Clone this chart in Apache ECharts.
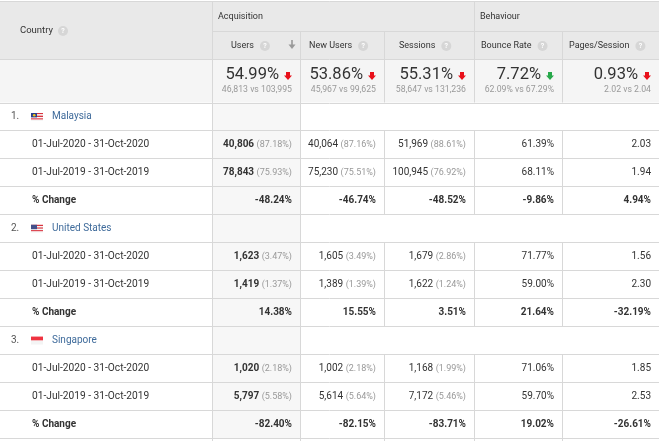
<!DOCTYPE html>
<html>
<head>
<meta charset="utf-8">
<script src="https://cdn.jsdelivr.net/npm/echarts@6/dist/echarts.min.js"></script>
<style>
  html, body { margin: 0; padding: 0; background: #fff; }
  #chart { width: 659px; height: 441px; }
</style>
</head>
<body>
<div id="chart"></div>
<script>
// Country report — period comparison table, drawn with a custom series

const countries = ['Malaysia', 'United States', 'Singapore'];
const flags = ['my', 'us', 'sg'];
const periods = ['01-Jul-2020 - 31-Oct-2020', '01-Jul-2019 - 31-Oct-2019'];
const groups = ['Acquisition', 'Behaviour'];
const metrics = ['Users', 'New Users', 'Sessions', 'Bounce Rate', 'Pages/Session'];

// summary row
const totalChange = ['54.99%', '53.86%', '55.31%', '7.72%', '0.93%'];
const totalCompare = ['46,813 vs 103,995', '45,967 vs 99,625', '58,647 vs 131,236', '62.09% vs 67.29%', '2.02 vs 2.04'];
const totalGood = [false, false, false, true, false];

// per country: [2020, 2019]
const users = [[40806, 78843], [1623, 1419], [1020, 5797]];
const usersShare = [['87.18%', '75.93%'], ['3.47%', '1.37%'], ['2.18%', '5.58%']];
const newUsers = [[40064, 75230], [1605, 1389], [1002, 5614]];
const newUsersShare = [['87.16%', '75.51%'], ['3.49%', '1.39%'], ['2.18%', '5.64%']];
const sessions = [[51969, 100945], [1679, 1622], [1168, 7172]];
const sessionsShare = [['88.61%', '76.92%'], ['2.86%', '1.24%'], ['1.99%', '5.46%']];
const bounceRate = [[61.39, 68.11], [71.77, 59.00], [71.06, 59.70]];
const pagesPerSession = [[2.03, 1.94], [1.56, 2.30], [1.85, 2.53]];
const pctChange = [
  ['-48.24%', '-46.74%', '-48.52%', '-9.86%', '4.94%'],
  ['14.38%', '15.55%', '3.51%', '21.64%', '-32.19%'],
  ['-82.40%', '-82.15%', '-83.71%', '19.02%', '-26.61%'],
];

// layout
const W = 659, H = 441;
const FONT = 'Roboto, Arial, sans-serif';
const colEdges = [0, 212, 300, 384, 474, 562, 659];
const groupStart = [1, 4];          // column index where each group starts
const headLabelX = [231, 309, 399, 481, 569];
const Y_TOP = 1, Y_MID = 31, Y_HEAD = 59, Y_SUM = 102.5, ROW_H = 27.95;
const LINE = '#d8d8d8';
const TEXT = '#333';
const GREY = '#999';
const LINK = '#3f6b9b';

const fmt = n => n.toLocaleString('en-US');

const rows = [];
countries.forEach((name, c) => {
  rows.push({ kind: 'country', c });
  periods.forEach((p, k) => rows.push({ kind: 'period', c, k }));
  rows.push({ kind: 'change', c });
});

const measureCtx = document.createElement('canvas').getContext('2d');
function textWidth(t, size, weight) {
  measureCtx.font = (weight || 'normal') + ' ' + size + 'px ' + FONT;
  return measureCtx.measureText(t).width;
}

function periodCells(c, k) {
  return [
    { main: fmt(users[c][k]), share: usersShare[c][k], bold: true },
    { main: fmt(newUsers[c][k]), share: newUsersShare[c][k] },
    { main: fmt(sessions[c][k]), share: sessionsShare[c][k] },
    { main: bounceRate[c][k].toFixed(2) + '%' },
    { main: pagesPerSession[c][k].toFixed(2) },
  ];
}

function renderItem(params, api) {
  const id = api.value(0);
  const P = (x, y) => api.coord([x, y]);
  const kids = [];

  const rect = (x0, y0, x1, y1, fill) => {
    const a = P(x0, y0), b = P(x1, y1);
    kids.push({ type: 'rect', shape: { x: a[0], y: a[1], width: b[0] - a[0], height: b[1] - a[1] }, style: { fill } });
  };
  const txt = (x, y, text, o) => {
    const p = P(x, y);
    kids.push({ type: 'text', x: p[0], y: p[1],
      style: Object.assign({ text, fill: TEXT, fontSize: 10, fontFamily: FONT, align: 'left', verticalAlign: 'middle' }, o) });
  };
  const hline = (y, x0, x1) => {
    const a = P(x0, y), b = P(x1, y);
    const yy = Math.round(a[1]) + 0.5;
    kids.push({ type: 'line', shape: { x1: a[0], y1: yy, x2: b[0], y2: yy }, style: { stroke: LINE, lineWidth: 1 } });
  };
  const vline = (x, y0, y1) => {
    const a = P(x, y0), b = P(x, y1);
    const xx = Math.round(a[0]) + 0.5;
    kids.push({ type: 'line', shape: { x1: xx, y1: a[1], x2: xx, y2: b[1] }, style: { stroke: LINE, lineWidth: 1 } });
  };
  const help = (x, y) => {
    const p = P(x, y);
    kids.push({ type: 'circle', shape: { cx: p[0], cy: p[1], r: 5 }, style: { fill: '#d6d6d6' } });
    kids.push({ type: 'text', x: p[0], y: p[1] + 0.5,
      style: { text: '?', fill: '#fff', fontSize: 7, fontWeight: 'bold', fontFamily: FONT, align: 'center', verticalAlign: 'middle' } });
  };
  const downArrow = (x, y, fill) => {
    const p = P(x, y), cx = p[0], cy = p[1];
    kids.push({ type: 'polygon', shape: { points: [
      [cx - 2, cy - 4], [cx + 2, cy - 4], [cx + 2, cy - 0.5], [cx + 4, cy - 0.5],
      [cx, cy + 4], [cx - 4, cy - 0.5], [cx - 2, cy - 0.5]] }, style: { fill } });
  };

  if (id === 0) {
    // header
    rect(0, Y_TOP, W, Y_HEAD, '#e9e9e9');
    txt(20, (Y_TOP + Y_HEAD) / 2 + 1, 'Country', { fontSize: 9.5 });
    help(20 + textWidth('Country', 9.5) + 10, (Y_TOP + Y_HEAD) / 2 + 1);
    groups.forEach((g, i) => txt(colEdges[groupStart[i]] + 6, (Y_TOP + Y_MID) / 2 + 1, g, { fontSize: 9 }));
    metrics.forEach((m, j) => {
      const y = (Y_MID + Y_HEAD) / 2 + 1;
      txt(headLabelX[j], y, m, { fontSize: 9 });
      help(headLabelX[j] + textWidth(m, 9) + 11, y);
    });
    // sort indicator on Users
    const s = P(292, 40), e = P(292, 49);
    kids.push({ type: 'line', shape: { x1: s[0], y1: s[1], x2: e[0], y2: e[1] - 3 }, style: { stroke: '#999', lineWidth: 1.6 } });
    kids.push({ type: 'polygon', shape: { points: [[e[0] - 3.5, e[1] - 4.5], [e[0] + 3.5, e[1] - 4.5], [e[0], e[1]]] }, style: { fill: '#999' } });
  } else if (id === 1) {
    // summary
    rect(0, Y_HEAD, W, Y_SUM, '#f5f5f5');
    metrics.forEach((m, j) => {
      const r = colEdges[j + 2];
      txt(r - 21, 75, totalChange[j], { fontSize: 16.5, align: 'right', fill: '#333' });
      downArrow(r - 12, 76, totalGood[j] ? '#27a84a' : '#e8101a');
      txt(r - 8, 89.5, totalCompare[j], { fontSize: 8.7, align: 'right', fill: GREY });
    });
  } else if (id < 2 + rows.length) {
    const row = rows[id - 2];
    const top = Y_SUM + (id - 2) * ROW_H, bot = top + ROW_H, mid = (top + bot) / 2 + 0.5;
    rect(colEdges[1], top, colEdges[2], bot, '#f7f7f7');
    if (row.kind === 'country') {
      txt(11, mid, (row.c + 1) + '.', { fill: '#555' });
      drawFlag(flags[row.c], P(31, mid - 4), P(43, mid + 4), kids);
      txt(52, mid, countries[row.c], { fill: LINK });
    } else if (row.kind === 'period') {
      txt(32, mid, periods[row.k], { fontSize: 10.2 });
      periodCells(row.c, row.k).forEach((cell, j) => {
        const r = colEdges[j + 2] - 8;
        if (cell.share) {
          txt(r, mid, '{' + (cell.bold ? 'b' : 'n') + '|' + cell.main + '} {g|(' + cell.share + ')}', {
            align: 'right',
            rich: {
              b: { fontSize: 10, fontWeight: 'bold', fill: TEXT, fontFamily: FONT },
              n: { fontSize: 10, fill: TEXT, fontFamily: FONT },
              g: { fontSize: 9, fill: GREY, fontFamily: FONT },
            },
          });
        } else {
          txt(r, mid, cell.main, { align: 'right' });
        }
      });
    } else {
      txt(32, mid, '% Change', { fontWeight: 'bold' });
      pctChange[row.c].forEach((v, j) => txt(colEdges[j + 2] - 8, mid, v, { align: 'right', fontWeight: 'bold' }));
    }
  } else {
    // grid lines on top of everything
    hline(Y_TOP, 0, W);
    hline(Y_MID, colEdges[1], W);
    hline(Y_HEAD, 0, W);
    hline(Y_SUM, 0, W);
    rows.forEach((row, i) => hline(Y_SUM + (i + 1) * ROW_H, 0, W));
    vline(colEdges[1], Y_TOP, H);
    vline(colEdges[2], Y_MID, H);
    vline(colEdges[4], Y_TOP, Y_SUM);
    [3, 5].forEach(ci => vline(colEdges[ci], Y_MID, Y_SUM));
    rows.forEach((row, i) => {
      if (row.kind === 'country') return;
      const top = Y_SUM + i * ROW_H;
      [3, 4, 5].forEach(ci => vline(colEdges[ci], top, top + ROW_H));
    });
    vline(colEdges[3], Y_SUM + rows.length * ROW_H, H);
    vline(colEdges[4], Y_SUM + rows.length * ROW_H, H);
    vline(colEdges[5], Y_SUM + rows.length * ROW_H, H);
  }
  return { type: 'group', children: kids };
}

function drawFlag(code, a, b, kids) {
  const x = a[0], y = a[1], w = b[0] - a[0], h = b[1] - a[1];
  const r = (rx, ry, rw, rh, fill) => kids.push({ type: 'rect', shape: { x: rx, y: ry, width: rw, height: rh }, style: { fill } });
  if (code === 'sg') {
    r(x, y, w, h / 2, '#ef3340');
    r(x, y + h / 2, w, h / 2, '#f4f4f4');
    return;
  }
  const n = 6;
  for (let i = 0; i < n; i++) r(x, y + i * h / n, w, h / n, i % 2 ? '#f6f6f6' : '#d9343f');
  r(x, y, w * 0.5, h * 0.55, code === 'us' ? '#44508a' : '#2b3f8e');
  if (code === 'my') kids.push({ type: 'circle', shape: { cx: x + w * 0.27, cy: y + h * 0.28, r: 1.3 }, style: { fill: '#f5c518' } });
}

const itemIds = [0, 1].concat(rows.map((r, i) => i + 2), [rows.length + 2]);

const chart = echarts.init(document.getElementById('chart'), null, { renderer: 'canvas' });
chart.setOption({
  animation: false,
  backgroundColor: '#fff',
  grid: { left: 0, right: 0, top: 0, bottom: 0 },
  xAxis: { type: 'value', min: 0, max: W, show: false },
  yAxis: { type: 'value', min: 0, max: H, inverse: true, show: false },
  series: [{
    type: 'custom',
    renderItem,
    clip: false,
    silent: true,
    data: itemIds.map(id => [id]),
    encode: { x: [], y: [] },
  }],
});
</script>
</body>
</html>
